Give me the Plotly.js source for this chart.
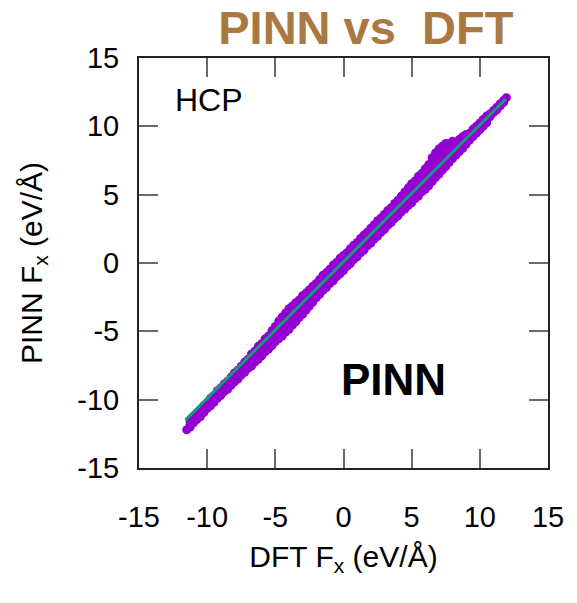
<!DOCTYPE html>
<html>
<head>
<meta charset="utf-8">
<script src="https://cdn.plot.ly/plotly-3.0.1.min.js"></script>
<style>
  html, body { margin: 0; padding: 0; background: #fff; }
  #chart { width: 577px; height: 603px; }
</style>
</head>
<body>
<div id="chart"></div>
<script>
// Force components along x: DFT reference vs PINN prediction (eV/Å)
const dftFx = [
  -11.5,
  -11.25, -11.25, -11.25, -11.0, -11.0, -11.0,
  -10.75, -10.75, -10.75, -10.5, -10.5, -10.5,
  -10.25, -10.25, -10.25, -10.0, -10.0, -10.0,
  -9.75, -9.75, -9.75, -9.5, -9.5, -9.5,
  -9.25, -9.25, -9.25, -9.0, -9.0, -9.0,
  -8.75, -8.75, -8.75, -8.5, -8.5, -8.5,
  -8.25, -8.25, -8.25, -8.0, -8.0, -8.0,
  -7.75, -7.75, -7.75, -7.5, -7.5, -7.5,
  -7.25, -7.25, -7.25, -7.0, -7.0, -7.0,
  -6.75, -6.75, -6.75, -6.5, -6.5, -6.5,
  -6.25, -6.25, -6.25, -6.0, -6.0, -6.0,
  -5.75, -5.75, -5.75, -5.5, -5.5, -5.5,
  -5.25, -5.25, -5.25, -5.0, -5.0, -5.0,
  -4.75, -4.75, -4.75, -4.5, -4.5, -4.5,
  -4.25, -4.25, -4.25, -4.0, -4.0, -4.0,
  -3.75, -3.75, -3.75, -3.5, -3.5, -3.5,
  -3.25, -3.25, -3.25, -3.0, -3.0, -3.0,
  -2.75, -2.75, -2.75, -2.5, -2.5, -2.5,
  -2.25, -2.25, -2.25, -2.0, -2.0, -2.0,
  -1.75, -1.75, -1.75, -1.5, -1.5, -1.5,
  -1.25, -1.25, -1.25, -1.0, -1.0, -1.0,
  -0.75, -0.75, -0.75, -0.5, -0.5, -0.5,
  -0.25, -0.25, -0.25, 0.0, 0.0, 0.0,
  0.25, 0.25, 0.25, 0.5, 0.5, 0.5,
  0.75, 0.75, 0.75, 1.0, 1.0, 1.0,
  1.25, 1.25, 1.25, 1.5, 1.5, 1.5,
  1.75, 1.75, 1.75, 2.0, 2.0, 2.0,
  2.25, 2.25, 2.25, 2.5, 2.5, 2.5,
  2.75, 2.75, 2.75, 3.0, 3.0, 3.0,
  3.25, 3.25, 3.25, 3.5, 3.5, 3.5,
  3.75, 3.75, 3.75, 4.0, 4.0, 4.0,
  4.25, 4.25, 4.25, 4.5, 4.5, 4.5,
  4.75, 4.75, 4.75, 5.0, 5.0, 5.0,
  5.25, 5.25, 5.25, 5.5, 5.5, 5.5,
  5.75, 5.75, 5.75, 6.0, 6.0, 6.0,
  6.25, 6.25, 6.25,
  6.5, 6.5, 6.5, 6.5, 6.75, 6.75, 6.75, 6.75,
  7.0, 7.0, 7.0, 7.0, 7.25, 7.25, 7.25, 7.25,
  7.5, 7.5, 7.5, 7.5, 7.75, 7.75, 7.75, 7.75,
  8.0, 8.0, 8.0, 8.0,
  8.25, 8.25, 8.25, 8.5, 8.5, 8.5,
  8.75, 8.75, 8.75, 9.0, 9.0, 9.0,
  9.25, 9.25, 9.25, 9.5, 9.5, 9.5,
  9.75, 9.75, 9.75, 10.0, 10.0, 10.0,
  10.25, 10.25, 10.25, 10.5, 10.5, 10.5,
  10.75, 10.75, 11.0, 11.0, 11.25, 11.25,
  11.5, 11.5, 11.75, 11.75,
  11.95
];
const pinnFx = [
  -12.2,
  -11.6, -11.8, -12.0, -11.3, -11.5, -11.7,
  -11.0, -11.25, -11.45, -10.8, -11.0, -11.25,
  -10.45, -10.7, -10.95, -10.25, -10.45, -10.65,
  -9.9, -10.15, -10.45, -9.7, -9.95, -10.2,
  -9.35, -9.65, -9.9, -9.15, -9.4, -9.7,
  -8.85, -9.1, -9.4, -8.65, -8.95, -9.25,
  -8.35, -8.65, -8.95, -8.05, -8.35, -8.7,
  -7.85, -8.15, -8.5, -7.55, -7.85, -8.2,
  -7.25, -7.6, -8.0, -7.05, -7.4, -7.7,
  -6.65, -7.1, -7.55, -6.45, -6.85, -7.25,
  -6.1, -6.55, -7.05, -5.9, -6.35, -6.8,
  -5.55, -6.05, -6.5, -5.35, -5.8, -6.3,
  -4.95, -5.5, -6.05, -4.65, -5.2, -5.75,
  -4.25, -4.9, -5.55, -3.95, -4.6, -5.35,
  -3.65, -4.35, -5.05, -3.35, -4.1, -4.85,
  -3.15, -3.9, -4.55, -2.9, -3.6, -4.3,
  -2.7, -3.35, -4.0, -2.4, -3.05, -3.75,
  -2.2, -2.85, -3.45, -1.95, -2.5, -3.15,
  -1.7, -2.25, -2.85, -1.5, -1.95, -2.55,
  -1.2, -1.75, -2.3, -0.9, -1.45, -2.0,
  -0.7, -1.25, -1.8, -0.45, -0.95, -1.5,
  -0.15, -0.75, -1.3, 0.05, -0.5, -1.0,
  0.35, -0.2, -0.8, 0.55, 0.0, -0.55,
  0.75, 0.25, -0.25, 1.05, 0.55, -0.05,
  1.3, 0.75, 0.25, 1.5, 1.0, 0.45,
  1.8, 1.3, 0.75, 2.05, 1.5, 0.95,
  2.25, 1.75, 1.25, 2.55, 2.05, 1.45,
  2.8, 2.25, 1.75, 3.1, 2.55, 1.95,
  3.3, 2.75, 2.25, 3.55, 3.05, 2.45,
  3.85, 3.25, 2.75, 4.05, 3.5, 2.95,
  4.35, 3.8, 3.25, 4.6, 4.0, 3.45,
  4.9, 4.3, 3.75, 5.2, 4.55, 3.95,
  5.5, 4.85, 4.2, 5.8, 5.1, 4.4,
  6.0, 5.3, 4.7, 6.35, 5.6, 4.9,
  6.55, 5.9, 5.2, 6.9, 6.1, 5.4,
  7.2, 6.4, 5.65,
  7.7, 7.2, 6.65, 5.95, 8.05, 7.55, 6.95, 6.25,
  8.35, 7.8, 7.25, 6.5, 8.55, 8.0, 7.45, 6.8,
  8.75, 8.2, 7.7, 7.05, 8.75, 8.3, 7.85, 7.35,
  8.9, 8.5, 8.1, 7.65,
  8.8, 8.35, 7.9, 9.05, 8.6, 8.15,
  9.25, 8.85, 8.4, 9.4, 9.1, 8.7,
  9.5, 9.25, 9.0, 9.8, 9.5, 9.25,
  10.0, 9.75, 9.5, 10.25, 10.0, 9.75,
  10.5, 10.25, 10.0, 10.75, 10.5, 10.25,
  10.9, 10.7, 11.15, 11.0, 11.4, 11.2,
  11.65, 11.5, 11.9, 11.75,
  12.1
];

// Linear fit drawn over the scatter
const fitX = [-11.6, 11.9];
const fitY = [-11.5, 12.0];

// Axis ticks
const tickVals = [-15, -10, -5, 0, 5, 10, 15];
const tickText = ['-15', '-10', '-5', '0', '5', '10', '15'];

const FONT = '"Liberation Sans", Arial, Helvetica, sans-serif';

const traces = [
  {
    x: dftFx, y: pinnFx,
    type: 'scatter', mode: 'markers',
    marker: { color: '#9400D3', size: 9, line: { width: 0 } },
    hoverinfo: 'x+y', showlegend: false
  },
  {
    x: fitX, y: fitY,
    type: 'scatter', mode: 'lines',
    line: { color: '#159A7C', width: 3 },
    hoverinfo: 'skip', showlegend: false
  }
];

const axisCommon = {
  range: [-15, 15],
  tickmode: 'array',
  tickvals: tickVals,
  ticktext: tickText,
  ticks: 'inside',
  ticklen: 19,
  tickwidth: 2,
  tickcolor: '#6a6a6a',
  showline: true,
  linecolor: '#222',
  linewidth: 2,
  mirror: 'ticks',
  showgrid: false,
  zeroline: false,
  tickfont: { family: FONT, size: 29, color: '#000' },
  automargin: false,
  fixedrange: true
};

const layout = {
  width: 577,
  height: 603,
  margin: { l: 139, r: 29, t: 58, b: 135 },
  paper_bgcolor: '#fff',
  plot_bgcolor: '#fff',
  font: { family: FONT, color: '#000' },
  title: {
    text: '<b>PINN vs  DFT</b>',
    font: { family: FONT, size: 47, color: '#AA7841' },
    x: 0.634, xref: 'container', xanchor: 'center',
    y: 0.955, yref: 'container', yanchor: 'middle'
  },
  xaxis: Object.assign({}, axisCommon, {
    ticklabelstandoff: 22,
    title: {
      text: 'DFT F<sub>x</sub> (eV/Å)',
      font: { family: FONT, size: 30, color: '#000' },
      standoff: 14
    }
  }),
  yaxis: Object.assign({}, axisCommon, {
    ticklabelstandoff: 12,
    title: {
      text: 'PINN F<sub>x</sub> (eV/Å)',
      font: { family: FONT, size: 30, color: '#000' },
      standoff: 26
    }
  }),
  annotations: [
    {
      text: 'HCP', xref: 'paper', yref: 'paper',
      x: 0.083, y: 0.898, xanchor: 'left', yanchor: 'middle',
      showarrow: false,
      font: { family: FONT, size: 32, color: '#000' }
    },
    {
      text: '<b>PINN</b>', xref: 'paper', yref: 'paper',
      x: 0.623, y: 0.215, xanchor: 'center', yanchor: 'middle',
      showarrow: false,
      font: { family: FONT, size: 44, color: '#000' }
    }
  ]
};

Plotly.newPlot('chart', traces, layout, { displayModeBar: false, staticPlot: true });
</script>
</body>
</html>
